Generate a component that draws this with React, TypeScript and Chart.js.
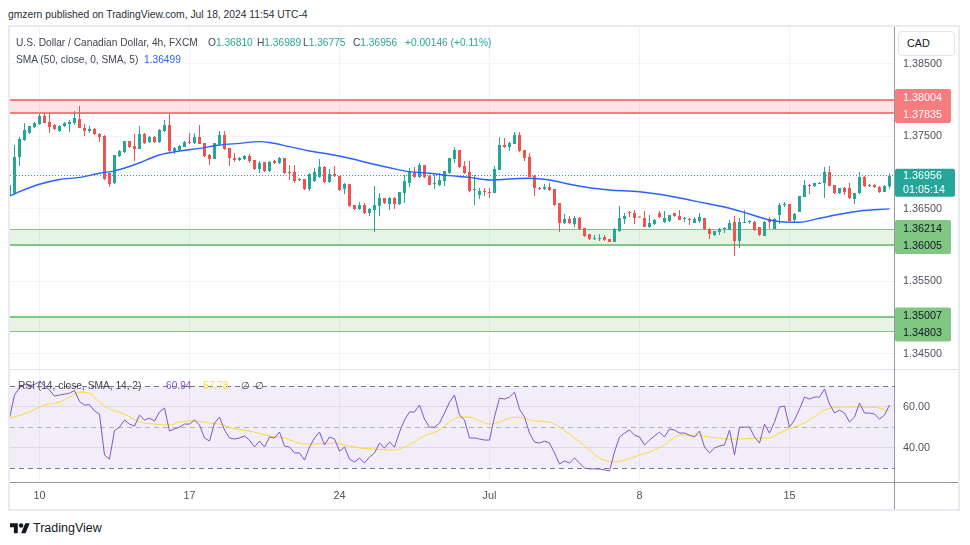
import React, { useEffect, useRef } from 'react';
import { Chart, registerables } from 'chart.js';

Chart.register(...registerables);

const FONT = '"Liberation Sans", Arial, sans-serif';
const TEAL = '#26a69a';
const RED = '#ef5350';
const GRID = '#f0f3fa';

// ---- candles (4h USD/CAD) ----
const candleOpen = [1.36677,1.36718,1.37215,1.37449,1.37546,1.37628,1.37670,1.37780,1.37697,1.37656,1.37573,1.37642,1.37670,1.37683,1.37739,1.37614,1.37573,1.37601,1.37532,1.37504,1.36994,1.36856,1.37228,1.37283,1.37435,1.37366,1.37325,1.37532,1.37421,1.37490,1.37421,1.37573,1.37656,1.37297,1.37311,1.37352,1.37421,1.37408,1.37490,1.37408,1.37242,1.37187,1.37394,1.37518,1.37339,1.37201,1.37173,1.37187,1.37228,1.37173,1.37049,1.37146,1.37021,1.37159,1.37132,1.37201,1.37008,1.37008,1.36911,1.36911,1.36773,1.36883,1.36939,1.37077,1.36870,1.36980,1.36952,1.36773,1.36842,1.36552,1.36497,1.36552,1.36442,1.36483,1.36539,1.36649,1.36566,1.36649,1.36566,1.36718,1.36856,1.37008,1.36939,1.37104,1.36952,1.36842,1.36828,1.36883,1.36994,1.37187,1.37311,1.37090,1.37008,1.36759,1.36690,1.36745,1.36732,1.36718,1.37035,1.37380,1.37352,1.37394,1.37518,1.37311,1.37215,1.36952,1.36787,1.36773,1.36801,1.36773,1.36580,1.36304,1.36359,1.36290,1.36373,1.36235,1.36152,1.36080,1.36083,1.36111,1.36083,1.36042,1.36194,1.36359,1.36456,1.36442,1.36387,1.36373,1.36249,1.36290,1.36442,1.36318,1.36332,1.36442,1.36401,1.36359,1.36359,1.36304,1.36332,1.36373,1.36221,1.36139,1.36180,1.36221,1.36208,1.36318,1.36056,1.36304,1.36318,1.36318,1.36249,1.36125,1.36359,1.36221,1.36414,1.36552,1.36566,1.36346,1.36456,1.36663,1.36828,1.36814,1.36842,1.36856,1.37008,1.36828,1.36718,1.36787,1.36787,1.36635,1.36718,1.36939,1.36828,1.36828,1.36801,1.36732,1.36810];
const candleHigh = [1.36828,1.37380,1.37490,1.37683,1.37642,1.37697,1.37808,1.37821,1.37821,1.37670,1.37656,1.37697,1.37725,1.37849,1.37918,1.37670,1.37642,1.37614,1.37546,1.37518,1.36994,1.37242,1.37311,1.37435,1.37435,1.37532,1.37642,1.37546,1.37504,1.37504,1.37601,1.37725,1.37808,1.37352,1.37380,1.37435,1.37546,1.37546,1.37656,1.37408,1.37256,1.37408,1.37573,1.37573,1.37339,1.37270,1.37215,1.37242,1.37256,1.37173,1.37159,1.37146,1.37159,1.37173,1.37215,1.37201,1.37104,1.37104,1.36925,1.36911,1.36994,1.37063,1.37187,1.37090,1.37049,1.37090,1.36952,1.36856,1.36842,1.36552,1.36594,1.36580,1.36511,1.36814,1.36718,1.36649,1.36663,1.36663,1.36732,1.36966,1.37063,1.37077,1.37132,1.37104,1.36966,1.36966,1.36994,1.37021,1.37201,1.37352,1.37311,1.37159,1.37159,1.36966,1.36787,1.36787,1.36787,1.37090,1.37490,1.37477,1.37421,1.37559,1.37559,1.37311,1.37270,1.36966,1.36801,1.36842,1.36856,1.36773,1.36580,1.36428,1.36401,1.36401,1.36387,1.36235,1.36152,1.36139,1.36152,1.36139,1.36083,1.36235,1.36539,1.36442,1.36470,1.36483,1.36387,1.36470,1.36414,1.36359,1.36470,1.36470,1.36414,1.36442,1.36483,1.36387,1.36373,1.36387,1.36442,1.36373,1.36235,1.36194,1.36235,1.36249,1.36346,1.36401,1.36373,1.36483,1.36346,1.36332,1.36249,1.36332,1.36387,1.36373,1.36580,1.36594,1.36566,1.36442,1.36677,1.36897,1.36842,1.36856,1.36870,1.37077,1.37090,1.36828,1.36787,1.36801,1.36856,1.36718,1.37008,1.36952,1.36842,1.36842,1.36814,1.36828,1.36989];
const candleLow = [1.36663,1.36690,1.37090,1.37435,1.37532,1.37614,1.37656,1.37683,1.37546,1.37587,1.37559,1.37628,1.37559,1.37656,1.37614,1.37504,1.37546,1.37518,1.37421,1.36897,1.36801,1.36842,1.37215,1.37270,1.37339,1.37159,1.37325,1.37394,1.37408,1.37408,1.37408,1.37559,1.37283,1.37256,1.37297,1.37352,1.37394,1.37394,1.37394,1.37215,1.37104,1.37187,1.37380,1.37311,1.37090,1.37146,1.37159,1.37173,1.37132,1.37035,1.36994,1.37008,1.37008,1.37118,1.37118,1.36980,1.36897,1.36856,1.36883,1.36759,1.36745,1.36870,1.36925,1.36856,1.36856,1.36939,1.36745,1.36704,1.36525,1.36483,1.36483,1.36428,1.36401,1.36180,1.36401,1.36566,1.36483,1.36497,1.36552,1.36580,1.36801,1.36925,1.36925,1.36925,1.36828,1.36773,1.36814,1.36814,1.36980,1.37132,1.37063,1.36980,1.36732,1.36552,1.36635,1.36677,1.36649,1.36718,1.37035,1.37339,1.37297,1.37394,1.37283,1.37159,1.36939,1.36677,1.36759,1.36759,1.36745,1.36539,1.36180,1.36290,1.36290,1.36249,1.36208,1.36111,1.36070,1.36070,1.36056,1.36056,1.36042,1.36042,1.36180,1.36290,1.36387,1.36290,1.36373,1.36249,1.36235,1.36277,1.36373,1.36304,1.36318,1.36387,1.36346,1.36318,1.36277,1.36304,1.36304,1.36208,1.36083,1.36125,1.36139,1.36166,1.36208,1.35849,1.35960,1.36304,1.36290,1.36194,1.36125,1.36125,1.36221,1.36221,1.36290,1.36525,1.36332,1.36318,1.36456,1.36663,1.36704,1.36801,1.36842,1.36649,1.36814,1.36704,1.36704,1.36690,1.36635,1.36566,1.36704,1.36801,1.36801,1.36787,1.36718,1.36732,1.36775];
const candleClose = [1.36828,1.37215,1.37463,1.37587,1.37642,1.37683,1.37780,1.37683,1.37628,1.37601,1.37642,1.37683,1.37697,1.37752,1.37614,1.37573,1.37601,1.37532,1.37490,1.36911,1.36842,1.37242,1.37297,1.37435,1.37352,1.37325,1.37532,1.37408,1.37490,1.37421,1.37587,1.37656,1.37297,1.37339,1.37366,1.37421,1.37408,1.37490,1.37394,1.37228,1.37187,1.37408,1.37518,1.37325,1.37201,1.37173,1.37201,1.37228,1.37159,1.37049,1.37132,1.37021,1.37146,1.37132,1.37201,1.36994,1.36994,1.36883,1.36897,1.36773,1.36980,1.37008,1.37077,1.36870,1.36980,1.36952,1.36759,1.36842,1.36539,1.36497,1.36552,1.36442,1.36497,1.36552,1.36649,1.36580,1.36649,1.36566,1.36732,1.36883,1.37021,1.36939,1.37104,1.36939,1.36828,1.36856,1.36897,1.37021,1.37201,1.37311,1.37077,1.36994,1.36745,1.36773,1.36745,1.36732,1.36718,1.37049,1.37380,1.37352,1.37408,1.37518,1.37297,1.37201,1.36939,1.36787,1.36773,1.36801,1.36759,1.36552,1.36304,1.36359,1.36304,1.36373,1.36221,1.36125,1.36083,1.36083,1.36097,1.36070,1.36042,1.36221,1.36373,1.36401,1.36442,1.36373,1.36380,1.36249,1.36304,1.36346,1.36387,1.36373,1.36414,1.36401,1.36346,1.36373,1.36346,1.36359,1.36387,1.36221,1.36152,1.36194,1.36221,1.36235,1.36304,1.36056,1.36318,1.36318,1.36332,1.36208,1.36139,1.36318,1.36318,1.36359,1.36552,1.36566,1.36332,1.36428,1.36677,1.36828,1.36814,1.36856,1.36856,1.37008,1.36814,1.36718,1.36787,1.36732,1.36649,1.36718,1.36939,1.36814,1.36814,1.36801,1.36732,1.36814,1.36956];

// ---- SMA 50 (read at selected bars) ----
const smaIdx = [0,2,6,10,14,18,21,25,30,34,38,42,46,50,52,56,60,64,68,72,76,80,84,88,92,96,100,104,108,112,116,120,126,132,136,140,144,148,152,156,158,162,166,170,176];
const smaVal = [1.36674,1.36736,1.36838,1.36904,1.36934,1.36990,1.37024,1.37108,1.37242,1.37297,1.37334,1.37380,1.37403,1.37426,1.37414,1.37357,1.37297,1.37252,1.37197,1.37128,1.37067,1.37012,1.36990,1.36957,1.36934,1.36897,1.36911,1.36921,1.36897,1.36838,1.36791,1.36759,1.36736,1.36677,1.36621,1.36566,1.36507,1.36428,1.36346,1.36314,1.36314,1.36369,1.36424,1.36470,1.36499];

// ---- RSI 14 ----
const rsiVal = [54.5,65.8,69.4,70.9,70.4,70.9,72.3,70.4,68.2,65.3,65.8,66.2,66.7,68.0,62.6,60.9,61.1,58.0,56.5,36.5,34.5,48.4,50.1,53.6,51.6,50.6,56.0,53.6,54.5,53.1,57.5,59.4,48.2,49.2,50.1,51.6,51.6,53.6,51.1,44.8,43.3,52.1,55.0,48.7,44.8,44.3,44.8,45.8,43.8,40.4,43.3,40.4,45.3,44.8,47.7,40.9,40.4,37.5,37.5,34.0,40.4,44.8,47.7,41.4,45.3,44.3,38.4,40.4,34.5,33.1,35.0,32.6,35.5,37.5,42.3,39.9,42.8,40.4,47.7,53.6,57.5,57.5,60.9,54.0,50.1,50.1,52.1,57.0,62.3,65.8,56.0,53.6,44.8,44.8,44.3,43.8,43.8,55.2,64.3,63.8,64.8,67.2,58.9,55.0,47.2,42.8,42.3,43.3,42.3,37.5,32.1,33.6,32.6,35.0,32.6,30.1,29.7,29.7,29.7,29.2,28.7,38.0,45.3,47.2,48.7,46.2,45.3,41.4,43.8,45.8,47.7,45.3,49.2,48.7,47.2,47.2,46.2,45.3,48.2,40.4,37.5,39.9,40.9,41.4,48.7,36.5,50.1,50.1,50.1,45.3,42.3,51.6,47.2,52.6,59.9,60.4,50.1,53.6,58.9,64.8,63.8,64.8,64.8,68.7,61.4,57.0,58.4,57.0,52.6,55.0,61.9,57.0,57.0,56.5,54.0,56.0,60.94];
const rsiMaIdx = [0,4,7,10,12,14,16,18,20,23,26,29,32,34,37,40,42,45,48,52,55,58,61,65,67,70,73,77,79,81,83,86,88,90,92,94,96,98,101,103,105,108,110,113,116,118,121,123,126,128,131,134,137,140,144,146,149,152,154,156,158,160,163,166,168,171,174,176];
const rsiMaVal = [54.4,57.5,60.9,62.3,64.8,67.2,66.7,62.3,58.9,56.5,52.6,51.6,51.1,52.6,53.1,52.1,51.6,49.2,48.2,45.8,44.8,42.3,41.9,42.3,41.4,39.9,39.4,38.9,40.4,42.8,45.8,48.7,52.6,55.0,55.0,53.1,51.6,52.6,55.0,54.5,53.1,52.6,50.1,44.8,38.9,35.0,33.1,34.0,36.5,37.9,41.4,46.2,46.2,45.3,44.3,44.3,44.8,44.8,47.2,49.2,51.1,53.6,58.4,59.9,59.9,59.9,59.4,57.78];

// ---- axes ----
const weekIdx = [6, 36, 66, 96, 126, 156];
const weekLabels = ['10', '17', '24', 'Jul', '8', '15'];
const priceTicks = [1.345, 1.35, 1.355, 1.36, 1.365, 1.37, 1.375, 1.38, 1.385];
const priceTickLabels = ['1.34500', '', '1.35500', '', '1.36500', '', '1.37500', '', '1.38500'];
const rsiTicks = [40, 60];
const rsiTickLabels = ['40.00', '60.00'];
const rsiLevels = [70, 50, 30];

// ---- drawn levels ----
const zoneRed = [1.38004, 1.37835];
const zoneRedExtra = 1.3781;
const zoneGreen1 = [1.36214, 1.36005];
const zoneGreen2 = [1.35007, 1.34803];
const lastClose = 1.36956;
const countdown = '01:05:14';

const X_MIN = 0.1;
const X_MAX = 176.9;
const PRICE_MIN = 1.342903;
const PRICE_MAX = 1.390076;
const RSI_MIN = 23.31;
const RSI_MAX = 78.01;

const crisp = (y: number, w: number) => (Math.round(w) % 2 === 1 ? Math.round(y - 0.5) + 0.5 : Math.round(y));

const fitY = (ax: any) => {
  ax.width = 64;
  ax.paddingTop = 0;
  ax.paddingBottom = 0;
};
const fitXHidden = (ax: any) => {
  ax.height = 0;
  ax.paddingLeft = 0;
  ax.paddingRight = 0;
};
const fitXShown = (ax: any) => {
  ax.height = 27;
  ax.paddingLeft = 0;
  ax.paddingRight = 0;
};

function Txt({ x, cy, size = 10.2, color = '#434651', children }: any) {
  const lh = Math.round(size * 1.3);
  return (
    <div
      style={{
        position: 'absolute',
        left: x,
        top: cy - lh / 2,
        fontSize: size,
        lineHeight: lh + 'px',
        fontFamily: FONT,
        color,
        whiteSpace: 'nowrap',
      }}
    >
      {children}
    </div>
  );
}

export default function App() {
  const priceRef = useRef<HTMLCanvasElement>(null);
  const rsiRef = useRef<HTMLCanvasElement>(null);

  useEffect(() => {
    document.body.style.margin = '0';
    const colors = candleClose.map((c, i) => (c >= candleOpen[i] ? TEAL : RED));

    const zonesPlugin = {
      id: 'zones',
      beforeDatasetsDraw(chart: any) {
        const { ctx, chartArea: a } = chart;
        const ys = chart.scales.y;
        const py = (p: number) => ys.getPixelForValue(p);
        ctx.save();
        ctx.beginPath();
        ctx.rect(a.left, a.top, a.right - a.left, a.bottom - a.top);
        ctx.clip();
        const fillZone = (p1: number, p2: number, c: string) => {
          const y1 = py(p1), y2 = py(p2);
          ctx.fillStyle = c;
          ctx.fillRect(a.left, Math.min(y1, y2), a.right - a.left, Math.abs(y2 - y1));
        };
        const hline = (p: number, c: string, w: number, dash: number[] = []) => {
          const y = crisp(py(p), w);
          ctx.strokeStyle = c;
          ctx.lineWidth = w;
          ctx.setLineDash(dash);
          ctx.beginPath();
          ctx.moveTo(a.left, y);
          ctx.lineTo(a.right, y);
          ctx.stroke();
        };
        fillZone(zoneRed[0], zoneRed[1], 'rgba(247,124,128,0.2)');
        hline(zoneRed[0], '#f77c80', 2);
        hline(zoneRed[1], '#f77c80', 1);
        hline(zoneRedExtra, '#f77c80', 1);
        fillZone(zoneGreen1[0], zoneGreen1[1], 'rgba(129,199,132,0.2)');
        hline(zoneGreen1[0], '#81c784', 1);
        hline(zoneGreen1[1], '#81c784', 2);
        fillZone(zoneGreen2[0], zoneGreen2[1], 'rgba(129,199,132,0.2)');
        hline(zoneGreen2[0], '#81c784', 2);
        hline(zoneGreen2[1], '#81c784', 1);
        hline(lastClose, TEAL, 1, [1, 2]);
        ctx.restore();
      },
    };

    const labelsPlugin = {
      id: 'priceLabels',
      afterDraw(chart: any) {
        const { ctx, chartArea: a } = chart;
        const ys = chart.scales.y;
        const left = a.right + 1;
        ctx.save();
        ctx.font = `10.8px ${FONT}`;
        ctx.textBaseline = 'middle';
        ctx.textAlign = 'left';
        const pair = (p1: number, p2: number, bg: string, fg: string) => {
          let y1 = ys.getPixelForValue(p1), y2 = ys.getPixelForValue(p2);
          if (y2 - y1 < 17) {
            const m = (y1 + y2) / 2;
            y1 = m - 8.5;
            y2 = m + 8.5;
          }
          ctx.fillStyle = bg;
          ctx.beginPath();
          ctx.roundRect(left, y1 - 8.5, 56, y2 - y1 + 17, 2);
          ctx.fill();
          ctx.fillStyle = fg;
          ctx.fillText(p1.toFixed(5), left + 8, y1 + 0.5);
          ctx.fillText(p2.toFixed(5), left + 8, y2 + 0.5);
        };
        pair(zoneRed[0], zoneRed[1], '#f77c80', '#ffffff');
        pair(zoneGreen1[0], zoneGreen1[1], '#81c784', '#131722');
        pair(zoneGreen2[0], zoneGreen2[1], '#81c784', '#131722');
        const yc = ys.getPixelForValue(lastClose);
        ctx.fillStyle = TEAL;
        ctx.beginPath();
        ctx.roundRect(left, yc - 7, 60, 28, 2);
        ctx.fill();
        ctx.fillStyle = '#ffffff';
        ctx.fillText(lastClose.toFixed(5), left + 8, yc + 0.5);
        ctx.fillText(countdown, left + 8, yc + 14.5);
        ctx.restore();
      },
    };

    const priceChart = new Chart(priceRef.current as HTMLCanvasElement, {
      type: 'bar',
      data: {
        datasets: [
          {
            type: 'line',
            label: 'SMA 50',
            data: smaIdx.map((x, i) => ({ x, y: smaVal[i] })),
            borderColor: '#2962ff',
            borderWidth: 1.4,
            pointRadius: 0,
            cubicInterpolationMode: 'monotone',
            clip: 0,
            order: 0,
          } as any,
          {
            label: 'body',
            data: candleOpen.map((o, i) => ({ x: i, y: [o, candleClose[i]] })),
            backgroundColor: colors,
            borderWidth: 0,
            barThickness: 3,
            minBarLength: 1,
            grouped: false,
            inflateAmount: 0,
            clip: 0,
            order: 1,
          } as any,
          {
            label: 'wick',
            data: candleLow.map((l, i) => ({ x: i, y: [l, candleHigh[i]] })),
            backgroundColor: colors,
            borderWidth: 0,
            barThickness: 1,
            grouped: false,
            inflateAmount: 0,
            clip: 0,
            order: 2,
          } as any,
        ],
      },
      options: {
        animation: false,
        responsive: false,
        devicePixelRatio: 1,
        events: [],
        layout: { padding: 0, autoPadding: false },
        plugins: { legend: { display: false }, tooltip: { enabled: false } },
        scales: {
          x: {
            type: 'linear',
            min: X_MIN,
            max: X_MAX,
            offset: false,
            grid: { color: GRID, drawTicks: false, offset: false },
            border: { display: false },
            ticks: { display: false },
            afterBuildTicks: (ax: any) => {
              ax.ticks = weekIdx.map((v) => ({ value: v }));
            },
            afterFit: fitXHidden,
          },
          y: {
            position: 'right',
            min: PRICE_MIN,
            max: PRICE_MAX,
            grid: { color: GRID, drawTicks: false },
            border: { display: false },
            ticks: {
              padding: 9,
              color: '#50535e',
              font: { size: 10.8, family: FONT },
              callback: (_v: any, i: number) => priceTickLabels[i],
            },
            afterBuildTicks: (ax: any) => {
              ax.ticks = priceTicks.map((v) => ({ value: v }));
            },
            afterFit: fitY,
          },
        },
      } as any,
      plugins: [zonesPlugin, labelsPlugin],
    });

    const rsiPlugin = {
      id: 'rsiBand',
      beforeDatasetsDraw(chart: any) {
        const { ctx, chartArea: a } = chart;
        const ys = chart.scales.y;
        const y70 = ys.getPixelForValue(rsiLevels[0]);
        const y50 = ys.getPixelForValue(rsiLevels[1]);
        const y30 = ys.getPixelForValue(rsiLevels[2]);
        ctx.save();
        ctx.fillStyle = 'rgba(126,87,194,0.1)';
        ctx.fillRect(a.left, y70, a.right - a.left, y30 - y70);
        ctx.lineWidth = 1;
        ctx.setLineDash([5, 4]);
        const dl = (y: number, c: string) => {
          const yy = crisp(y, 1);
          ctx.strokeStyle = c;
          ctx.beginPath();
          ctx.moveTo(a.left, yy);
          ctx.lineTo(a.right, yy);
          ctx.stroke();
        };
        dl(y70, '#787b86');
        dl(y50, 'rgba(120,123,134,0.5)');
        dl(y30, '#787b86');
        ctx.restore();
      },
    };

    const rsiChart = new Chart(rsiRef.current as HTMLCanvasElement, {
      type: 'line',
      data: {
        datasets: [
          {
            label: 'RSI',
            data: rsiVal.map((v, i) => ({ x: i, y: v })),
            borderColor: '#7e57c2',
            borderWidth: 1,
            pointRadius: 0,
            tension: 0,
            clip: 0,
            order: 0,
          },
          {
            label: 'RSI MA',
            data: rsiMaIdx.map((x, i) => ({ x, y: rsiMaVal[i] })),
            borderColor: '#fdd835',
            borderWidth: 1,
            pointRadius: 0,
            cubicInterpolationMode: 'monotone',
            clip: 0,
            order: 1,
          },
        ],
      },
      options: {
        animation: false,
        responsive: false,
        devicePixelRatio: 1,
        events: [],
        layout: { padding: 0, autoPadding: false },
        plugins: { legend: { display: false }, tooltip: { enabled: false } },
        scales: {
          x: {
            type: 'linear',
            min: X_MIN,
            max: X_MAX,
            offset: false,
            grid: { color: GRID, drawTicks: false },
            border: { display: false },
            ticks: {
              padding: 8,
              autoSkip: false,
              maxRotation: 0,
              color: '#50535e',
              font: { size: 10.8, family: FONT },
              callback: (_v: any, i: number) => weekLabels[i],
            },
            afterBuildTicks: (ax: any) => {
              ax.ticks = weekIdx.map((v) => ({ value: v }));
            },
            afterFit: fitXShown,
          },
          y: {
            position: 'right',
            min: RSI_MIN,
            max: RSI_MAX,
            grid: { color: '#e9e6f2', drawTicks: false },
            border: { display: false },
            ticks: {
              padding: 9,
              color: '#50535e',
              font: { size: 10.8, family: FONT },
              callback: (_v: any, i: number) => rsiTickLabels[i],
            },
            afterBuildTicks: (ax: any) => {
              ax.ticks = rsiTicks.map((v) => ({ value: v }));
            },
            afterFit: fitY,
          },
        },
      } as any,
      plugins: [rsiPlugin],
    });

    return () => {
      priceChart.destroy();
      rsiChart.destroy();
    };
  }, []);

  return (
    <div style={{ position: 'absolute', left: 0, top: 0, width: 970, height: 545, background: '#ffffff', overflow: 'hidden' }}>
      <Txt x={8} cy={14.5} size={10.3} color="#2a2e39">
        gmzern published on TradingView.com, Jul 18, 2024 11:54 UTC-4
      </Txt>
      <canvas ref={priceRef} width={948} height={342} style={{ position: 'absolute', left: 10, top: 27, width: 948, height: 342 }} />
      <canvas ref={rsiRef} width={948} height={139} style={{ position: 'absolute', left: 10, top: 370, width: 948, height: 139 }} />

      {/* frame and separators */}
      <div style={{ position: 'absolute', left: 8, top: 25, width: 952, height: 486, border: '2px solid #e9ebf0', boxSizing: 'border-box' }} />
      <div style={{ position: 'absolute', left: 10, top: 369, width: 948, height: 1, background: '#e0e3eb' }} />
      <div style={{ position: 'absolute', left: 10, top: 482, width: 948, height: 1, background: '#9598a1' }} />
      <div style={{ position: 'absolute', left: 894, top: 27, width: 1, height: 482, background: '#9598a1' }} />

      {/* currency button */}
      <div style={{ position: 'absolute', left: 898, top: 31, width: 57, height: 25, border: '1px solid #e0e3eb', borderRadius: 4, boxSizing: 'border-box', background: '#fff', fontFamily: FONT, fontSize: 10.8, lineHeight: '23px', paddingLeft: 8, color: '#131722' }}>CAD</div>

      {/* main legend */}
      <Txt x={16} cy={42.3}>U.S. Dollar / Canadian Dollar, 4h, FXCM</Txt>
      <Txt x={208} cy={42.3}>O<span style={{ color: TEAL }}>1.36810</span></Txt>
      <Txt x={257} cy={42.3}>H<span style={{ color: TEAL }}>1.36989</span></Txt>
      <Txt x={303} cy={42.3}>L<span style={{ color: TEAL }}>1.36775</span></Txt>
      <Txt x={353} cy={42.3}>C<span style={{ color: TEAL }}>1.36956</span></Txt>
      <Txt x={405} cy={42.3} color={TEAL}>+0.00146 (+0.11%)</Txt>
      <Txt x={16} cy={59}>SMA (50, close, 0, SMA, 5)</Txt>
      <Txt x={144} cy={59} color="#2962ff">1.36499</Txt>

      {/* RSI legend */}
      <Txt x={18} cy={385}>RSI (14, close, SMA, 14, 2)</Txt>
      <Txt x={166} cy={385} color="#7e57c2">60.94</Txt>
      <Txt x={203} cy={385} color="#fdd835">57.78</Txt>
      <Txt x={241} cy={385}>∅</Txt>
      <Txt x={255} cy={385}>∅</Txt>

      {/* footer */}
      <svg style={{ position: 'absolute', left: 10, top: 520.5 }} width={20} height={15.6} viewBox="0 0 36 28">
        <path d="M14 22H7V11H0V4h14v18zM28 22h-8l7.5-18h8L28 22z" fill="#131722" />
        <circle cx="20" cy="8" r="4" fill="#131722" />
      </svg>
      <Txt x={33} cy={527.5} size={12.5} color="#131722">TradingView</Txt>
    </div>
  );
}
